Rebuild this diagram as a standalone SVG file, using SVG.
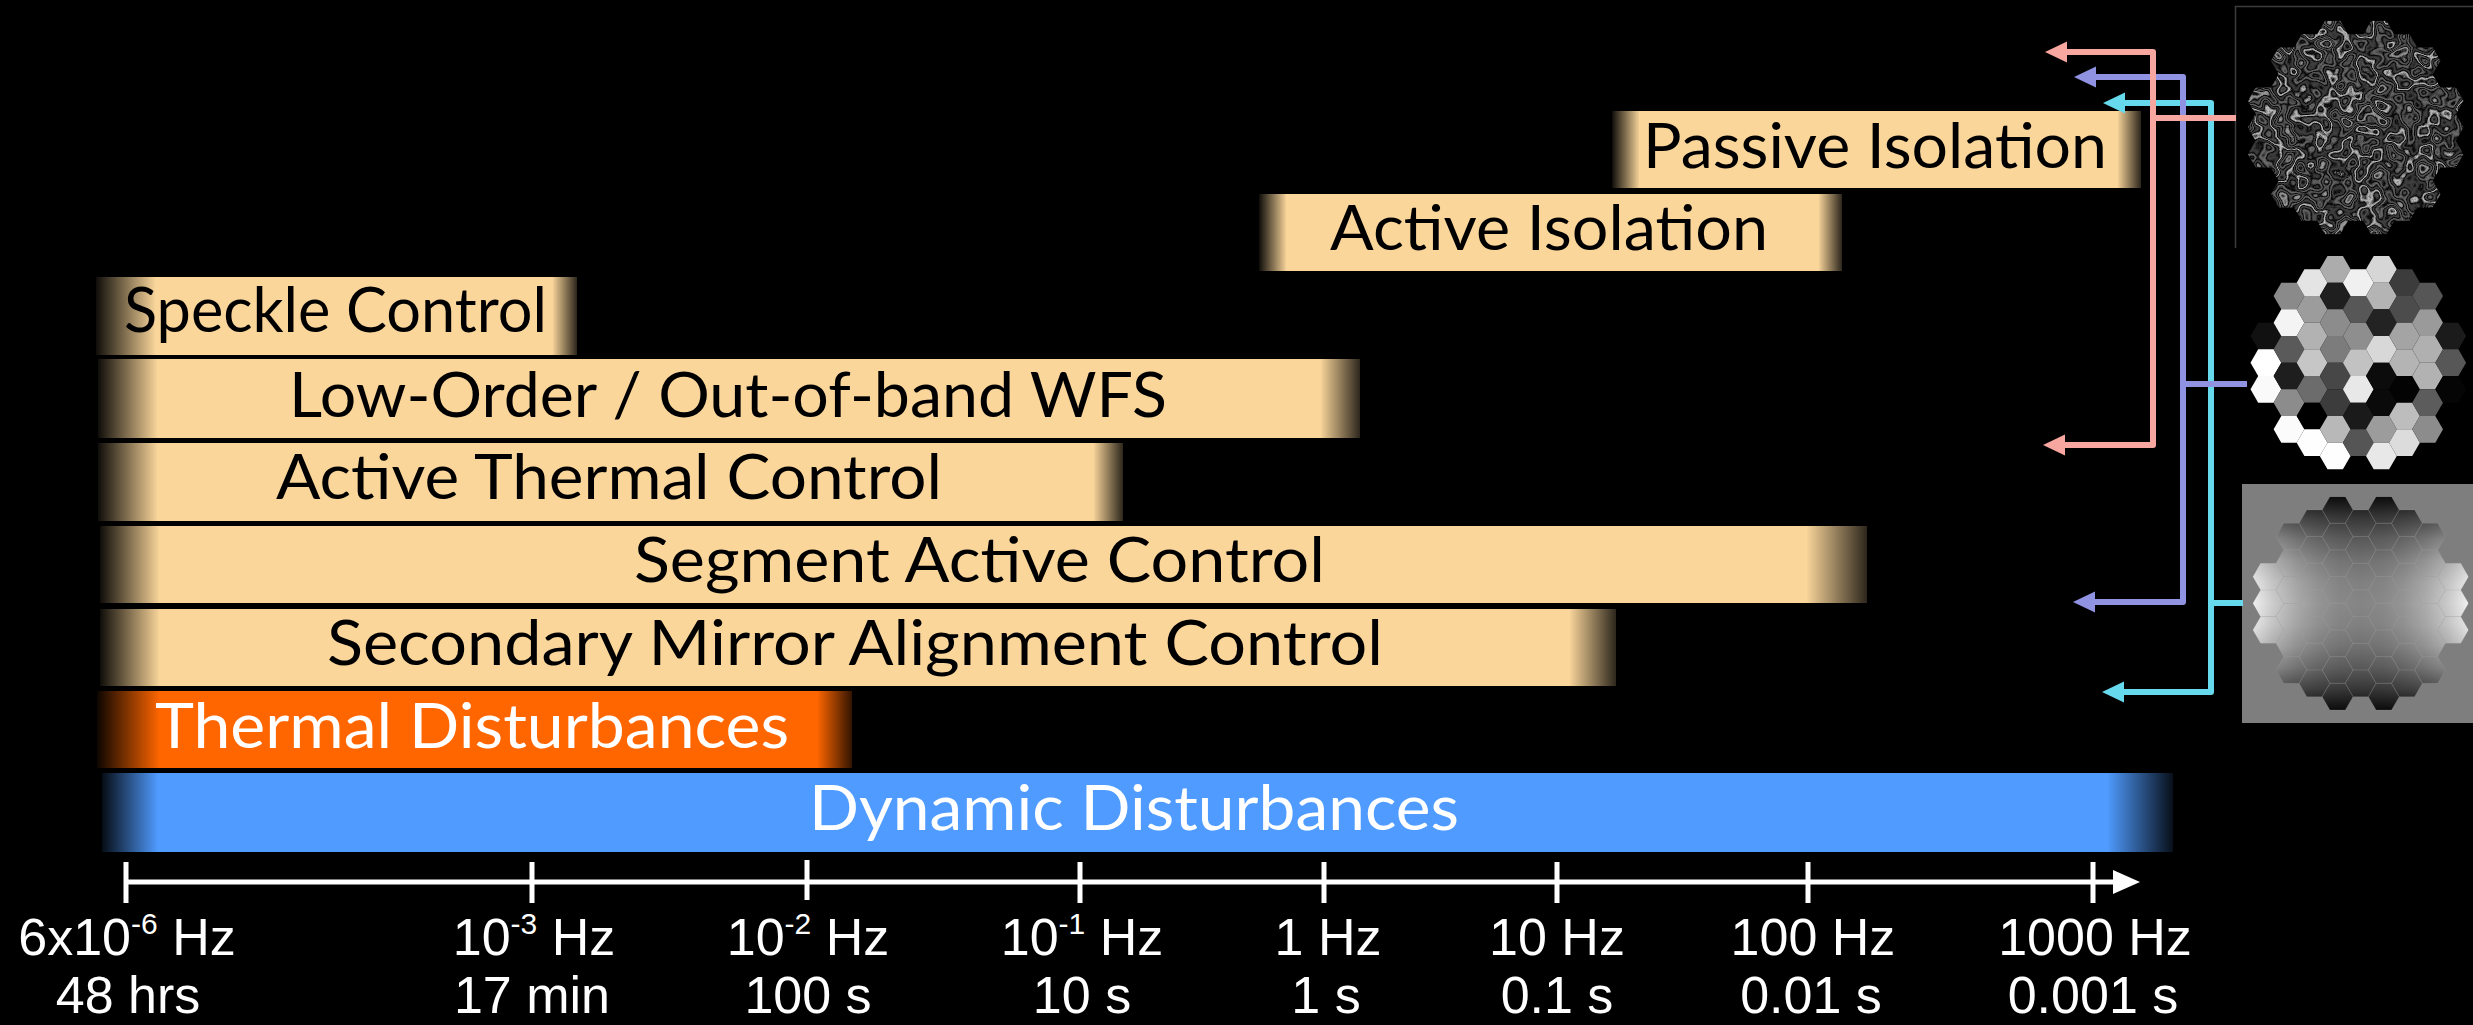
<svg xmlns="http://www.w3.org/2000/svg" xmlns:xlink="http://www.w3.org/1999/xlink" width="2473" height="1025" viewBox="0 0 2473 1025">
  <style>
    .lbl { font-family: Lato, "Liberation Sans", sans-serif; font-size: 62px; }
    .ink { fill: #000; }
    .wht { fill: #fff; }
    .ax { font-family: "Liberation Sans", Arial, sans-serif; font-size: 52px; fill: #fff; text-anchor: middle; }
    .sup { font-size: 30px; }
    .peach { fill: #FAD69B; }
    .orange { fill: #FF6600; }
    .blue { fill: #4F9BFF; }
    .axis { stroke: #fff; stroke-width: 5; fill: none; }
    .link { fill: none; stroke-width: 6; stroke-linejoin: round; }
  </style>
  <defs>
    <!-- edge fades of the frequency bands -->
    <linearGradient id="pL"><stop offset="0" stop-color="#FAD69B" stop-opacity="0.06"/><stop offset="1" stop-color="#FAD69B"/></linearGradient>
    <linearGradient id="pR"><stop offset="0" stop-color="#FAD69B"/><stop offset="1" stop-color="#FAD69B" stop-opacity="0.18"/></linearGradient>
    <linearGradient id="oL"><stop offset="0" stop-color="#FF6600" stop-opacity="0.05"/><stop offset="1" stop-color="#FF6600"/></linearGradient>
    <linearGradient id="oR"><stop offset="0" stop-color="#FF6600"/><stop offset="1" stop-color="#FF6600" stop-opacity="0.2"/></linearGradient>
    <linearGradient id="bL"><stop offset="0" stop-color="#4F9BFF" stop-opacity="0.08"/><stop offset="1" stop-color="#4F9BFF"/></linearGradient>
    <linearGradient id="bR"><stop offset="0" stop-color="#4F9BFF"/><stop offset="1" stop-color="#4F9BFF" stop-opacity="0.1"/></linearGradient>

    <!-- saddle-shaped wavefront map -->
    <linearGradient id="sadH" x1="0" y1="0" x2="1" y2="0">
      <stop offset="0" stop-color="#fff" stop-opacity="0.88"/>
      <stop offset="0.1" stop-color="#fff" stop-opacity="0.56"/>
      <stop offset="0.2" stop-color="#fff" stop-opacity="0.32"/>
      <stop offset="0.3" stop-color="#fff" stop-opacity="0.14"/>
      <stop offset="0.4" stop-color="#fff" stop-opacity="0.03"/>
      <stop offset="0.5" stop-color="#fff" stop-opacity="0"/>
      <stop offset="0.6" stop-color="#fff" stop-opacity="0.03"/>
      <stop offset="0.7" stop-color="#fff" stop-opacity="0.14"/>
      <stop offset="0.8" stop-color="#fff" stop-opacity="0.32"/>
      <stop offset="0.9" stop-color="#fff" stop-opacity="0.56"/>
      <stop offset="1" stop-color="#fff" stop-opacity="0.88"/>
    </linearGradient>
    <linearGradient id="sadV" x1="0" y1="0" x2="0" y2="1">
      <stop offset="0" stop-color="#000" stop-opacity="0.92"/>
      <stop offset="0.1" stop-color="#000" stop-opacity="0.59"/>
      <stop offset="0.2" stop-color="#000" stop-opacity="0.33"/>
      <stop offset="0.3" stop-color="#000" stop-opacity="0.15"/>
      <stop offset="0.4" stop-color="#000" stop-opacity="0.04"/>
      <stop offset="0.5" stop-color="#000" stop-opacity="0"/>
      <stop offset="0.6" stop-color="#000" stop-opacity="0.04"/>
      <stop offset="0.7" stop-color="#000" stop-opacity="0.15"/>
      <stop offset="0.8" stop-color="#000" stop-opacity="0.33"/>
      <stop offset="0.9" stop-color="#000" stop-opacity="0.59"/>
      <stop offset="1" stop-color="#000" stop-opacity="0.92"/>
    </linearGradient>

    <!-- speckle field: banded noise, dark contours between grey blobs -->
    <filter id="speckle" x="0" y="0" width="1" height="1" color-interpolation-filters="sRGB">
      <feTurbulence type="fractalNoise" baseFrequency="0.05" numOctaves="2" seed="7"/>
      <feColorMatrix type="matrix" values="1 0 0 0 0  1 0 0 0 0  1 0 0 0 0  0 0 0 0 1"/>
      <feComponentTransfer>
        <feFuncR type="table" tableValues=".02 .2 .3 .2 .02 .3 .45 .3 .02 .18 .28 .18 .02 .4 .62 .4 .02 .24 .36 .24 .02 .28 .42 .28 .02 .18 .26 .18 .02 .45 .75 .45 .02 .2 .32 .2 .02 .26 .4 .26 .02 .34 .52 .34 .02 .2 .28 .2 .02 .36 .55"/>
        <feFuncG type="table" tableValues=".02 .2 .3 .2 .02 .3 .45 .3 .02 .18 .28 .18 .02 .4 .62 .4 .02 .24 .36 .24 .02 .28 .42 .28 .02 .18 .26 .18 .02 .45 .75 .45 .02 .2 .32 .2 .02 .26 .4 .26 .02 .34 .52 .34 .02 .2 .28 .2 .02 .36 .55"/>
        <feFuncB type="table" tableValues=".02 .2 .3 .2 .02 .3 .45 .3 .02 .18 .28 .18 .02 .4 .62 .4 .02 .24 .36 .24 .02 .28 .42 .28 .02 .18 .26 .18 .02 .45 .75 .45 .02 .2 .32 .2 .02 .26 .4 .26 .02 .34 .52 .34 .02 .2 .28 .2 .02 .36 .55"/>
      </feComponentTransfer>
    </filter>

    <!-- one mirror segment (flat-top hexagon) -->
    <path id="hx" d="M-15.4,0 L-7.7,-13.34 L7.7,-13.34 L15.4,0 L7.7,13.34 L-7.7,13.34 Z"/>

    <!-- segmented pupil outline -->
    <clipPath id="aperture">
      <use href="#hx" x="-92.4" y="-26.67"/><use href="#hx" x="-92.4" y="0"/><use href="#hx" x="-92.4" y="26.67"/>
      <use href="#hx" x="-69.3" y="-66.67"/><use href="#hx" x="-69.3" y="-40"/><use href="#hx" x="-69.3" y="-13.33"/><use href="#hx" x="-69.3" y="13.33"/><use href="#hx" x="-69.3" y="40"/><use href="#hx" x="-69.3" y="66.67"/>
      <use href="#hx" x="-46.2" y="-80"/><use href="#hx" x="-46.2" y="-53.33"/><use href="#hx" x="-46.2" y="-26.67"/><use href="#hx" x="-46.2" y="0"/><use href="#hx" x="-46.2" y="26.67"/><use href="#hx" x="-46.2" y="53.33"/><use href="#hx" x="-46.2" y="80"/>
      <use href="#hx" x="-23.1" y="-93.33"/><use href="#hx" x="-23.1" y="-66.67"/><use href="#hx" x="-23.1" y="-40"/><use href="#hx" x="-23.1" y="-13.33"/><use href="#hx" x="-23.1" y="13.33"/><use href="#hx" x="-23.1" y="40"/><use href="#hx" x="-23.1" y="66.67"/><use href="#hx" x="-23.1" y="93.33"/>
      <use href="#hx" x="0" y="-80"/><use href="#hx" x="0" y="-53.33"/><use href="#hx" x="0" y="-26.67"/><use href="#hx" x="0" y="0"/><use href="#hx" x="0" y="26.67"/><use href="#hx" x="0" y="53.33"/><use href="#hx" x="0" y="80"/>
      <use href="#hx" x="23.1" y="-93.33"/><use href="#hx" x="23.1" y="-66.67"/><use href="#hx" x="23.1" y="-40"/><use href="#hx" x="23.1" y="-13.33"/><use href="#hx" x="23.1" y="13.33"/><use href="#hx" x="23.1" y="40"/><use href="#hx" x="23.1" y="66.67"/><use href="#hx" x="23.1" y="93.33"/>
      <use href="#hx" x="46.2" y="-80"/><use href="#hx" x="46.2" y="-53.33"/><use href="#hx" x="46.2" y="-26.67"/><use href="#hx" x="46.2" y="0"/><use href="#hx" x="46.2" y="26.67"/><use href="#hx" x="46.2" y="53.33"/><use href="#hx" x="46.2" y="80"/>
      <use href="#hx" x="69.3" y="-66.67"/><use href="#hx" x="69.3" y="-40"/><use href="#hx" x="69.3" y="-13.33"/><use href="#hx" x="69.3" y="13.33"/><use href="#hx" x="69.3" y="40"/><use href="#hx" x="69.3" y="66.67"/>
      <use href="#hx" x="92.4" y="-26.67"/><use href="#hx" x="92.4" y="0"/><use href="#hx" x="92.4" y="26.67"/>
    </clipPath>

    <!-- segment edges, styled by the referencing element -->
    <g id="grid">
      <use href="#hx" x="-92.4" y="-26.67"/><use href="#hx" x="-92.4" y="0"/><use href="#hx" x="-92.4" y="26.67"/>
      <use href="#hx" x="-69.3" y="-66.67"/><use href="#hx" x="-69.3" y="-40"/><use href="#hx" x="-69.3" y="-13.33"/><use href="#hx" x="-69.3" y="13.33"/><use href="#hx" x="-69.3" y="40"/><use href="#hx" x="-69.3" y="66.67"/>
      <use href="#hx" x="-46.2" y="-80"/><use href="#hx" x="-46.2" y="-53.33"/><use href="#hx" x="-46.2" y="-26.67"/><use href="#hx" x="-46.2" y="0"/><use href="#hx" x="-46.2" y="26.67"/><use href="#hx" x="-46.2" y="53.33"/><use href="#hx" x="-46.2" y="80"/>
      <use href="#hx" x="-23.1" y="-93.33"/><use href="#hx" x="-23.1" y="-66.67"/><use href="#hx" x="-23.1" y="-40"/><use href="#hx" x="-23.1" y="-13.33"/><use href="#hx" x="-23.1" y="13.33"/><use href="#hx" x="-23.1" y="40"/><use href="#hx" x="-23.1" y="66.67"/><use href="#hx" x="-23.1" y="93.33"/>
      <use href="#hx" x="0" y="-80"/><use href="#hx" x="0" y="-53.33"/><use href="#hx" x="0" y="-26.67"/><use href="#hx" x="0" y="0"/><use href="#hx" x="0" y="26.67"/><use href="#hx" x="0" y="53.33"/><use href="#hx" x="0" y="80"/>
      <use href="#hx" x="23.1" y="-93.33"/><use href="#hx" x="23.1" y="-66.67"/><use href="#hx" x="23.1" y="-40"/><use href="#hx" x="23.1" y="-13.33"/><use href="#hx" x="23.1" y="13.33"/><use href="#hx" x="23.1" y="40"/><use href="#hx" x="23.1" y="66.67"/><use href="#hx" x="23.1" y="93.33"/>
      <use href="#hx" x="46.2" y="-80"/><use href="#hx" x="46.2" y="-53.33"/><use href="#hx" x="46.2" y="-26.67"/><use href="#hx" x="46.2" y="0"/><use href="#hx" x="46.2" y="26.67"/><use href="#hx" x="46.2" y="53.33"/><use href="#hx" x="46.2" y="80"/>
      <use href="#hx" x="69.3" y="-66.67"/><use href="#hx" x="69.3" y="-40"/><use href="#hx" x="69.3" y="-13.33"/><use href="#hx" x="69.3" y="13.33"/><use href="#hx" x="69.3" y="40"/><use href="#hx" x="69.3" y="66.67"/>
      <use href="#hx" x="92.4" y="-26.67"/><use href="#hx" x="92.4" y="0"/><use href="#hx" x="92.4" y="26.67"/>
    </g>

    <!-- arrowheads -->
    <marker id="ahPink" markerUnits="userSpaceOnUse" viewBox="0 0 24 22" markerWidth="24" markerHeight="22" refX="14" refY="10.5" orient="auto-start-reverse">
      <path d="M0,0 L22,10.5 L0,21 Z" fill="#F8A7A0"/>
    </marker>
    <marker id="ahPurple" markerUnits="userSpaceOnUse" viewBox="0 0 24 22" markerWidth="24" markerHeight="22" refX="14" refY="10.5" orient="auto-start-reverse">
      <path d="M0,0 L22,10.5 L0,21 Z" fill="#8F93E2"/>
    </marker>
    <marker id="ahCyan" markerUnits="userSpaceOnUse" viewBox="0 0 24 22" markerWidth="24" markerHeight="22" refX="14" refY="10.5" orient="auto-start-reverse">
      <path d="M0,0 L22,10.5 L0,21 Z" fill="#66DAEC"/>
    </marker>
  </defs>

  <rect width="2473" height="1025" fill="#000"/>

  <!-- frequency bands -->
  <g id="passive-isolation">
    <rect x="1612" y="111" width="28" height="77" fill="url(#pL)"/>
    <rect class="peach" x="1639" y="111" width="479" height="77"/>
    <rect x="2117" y="111" width="24" height="77" fill="url(#pR)"/>
    <text class="lbl ink" x="1643" y="168" textLength="464" lengthAdjust="spacingAndGlyphs">Passive Isolation</text>
  </g>
  <g id="active-isolation">
    <rect x="1259" y="194" width="28" height="77" fill="url(#pL)"/>
    <rect class="peach" x="1286" y="194" width="533" height="77"/>
    <rect x="1818" y="194" width="24" height="77" fill="url(#pR)"/>
    <text class="lbl ink" x="1330" y="250" textLength="438" lengthAdjust="spacingAndGlyphs">Active Isolation</text>
  </g>
  <g id="speckle-control">
    <rect x="96" y="277" width="60" height="78" fill="url(#pL)"/>
    <rect class="peach" x="155" y="277" width="398" height="78"/>
    <rect x="552" y="277" width="25" height="78" fill="url(#pR)"/>
    <text class="lbl ink" x="124" y="332" textLength="423" lengthAdjust="spacingAndGlyphs">Speckle Control</text>
  </g>
  <g id="low-order-wfs">
    <rect x="98" y="359" width="60" height="79" fill="url(#pL)"/>
    <rect class="peach" x="157" y="359" width="1164" height="79"/>
    <rect x="1320" y="359" width="40" height="79" fill="url(#pR)"/>
    <text class="lbl ink" x="289" y="417" textLength="878" lengthAdjust="spacingAndGlyphs">Low-Order / Out-of-band WFS</text>
  </g>
  <g id="active-thermal-control">
    <rect x="98" y="443" width="60" height="78" fill="url(#pL)"/>
    <rect class="peach" x="157" y="443" width="937" height="78"/>
    <rect x="1093" y="443" width="30" height="78" fill="url(#pR)"/>
    <text class="lbl ink" x="276" y="499" textLength="666" lengthAdjust="spacingAndGlyphs">Active Thermal Control</text>
  </g>
  <g id="segment-active-control">
    <rect x="100" y="526" width="60" height="77" fill="url(#pL)"/>
    <rect class="peach" x="159" y="526" width="1648" height="77"/>
    <rect x="1806" y="526" width="61" height="77" fill="url(#pR)"/>
    <text class="lbl ink" x="634" y="582" textLength="691" lengthAdjust="spacingAndGlyphs">Segment Active Control</text>
  </g>
  <g id="secondary-mirror-alignment">
    <rect x="100" y="609" width="60" height="77" fill="url(#pL)"/>
    <rect class="peach" x="159" y="609" width="1411" height="77"/>
    <rect x="1569" y="609" width="47" height="77" fill="url(#pR)"/>
    <text class="lbl ink" x="327" y="665" textLength="1056" lengthAdjust="spacingAndGlyphs">Secondary Mirror Alignment Control</text>
  </g>
  <g id="thermal-disturbances">
    <rect x="97" y="691" width="63" height="77" fill="url(#oL)"/>
    <rect class="orange" x="159" y="691" width="659" height="77"/>
    <rect x="817" y="691" width="35" height="77" fill="url(#oR)"/>
    <text class="lbl wht" x="155" y="748" textLength="634" lengthAdjust="spacingAndGlyphs">Thermal Disturbances</text>
  </g>
  <g id="dynamic-disturbances">
    <rect x="102" y="773" width="56" height="79" fill="url(#bL)"/>
    <rect class="blue" x="157" y="773" width="1951" height="79"/>
    <rect x="2107" y="773" width="66" height="79" fill="url(#bR)"/>
    <text class="lbl wht" x="809" y="830" textLength="650" lengthAdjust="spacingAndGlyphs">Dynamic Disturbances</text>
  </g>

  <!-- frequency axis -->
  <g id="frequency-axis">
    <path class="axis" d="M126,882 H2116"/>
    <path d="M2113,870 L2140,882 L2113,894 Z" fill="#fff"/>
    <path class="axis" d="M126,862 V903 M532,862 V903 M807,860 V900 M1080,862 V903 M1324,862 V903 M1557,862 V903 M1808,862 V903 M2093,862 V903"/>
    <text class="ax" x="127" y="955">6x10<tspan class="sup" dy="-21">-6</tspan><tspan dy="21"> Hz</tspan></text>
    <text class="ax" x="128" y="1013">48 hrs</text>
    <text class="ax" x="534" y="955">10<tspan class="sup" dy="-21">-3</tspan><tspan dy="21"> Hz</tspan></text>
    <text class="ax" x="532" y="1013">17 min</text>
    <text class="ax" x="808" y="955">10<tspan class="sup" dy="-21">-2</tspan><tspan dy="21"> Hz</tspan></text>
    <text class="ax" x="808" y="1013">100 s</text>
    <text class="ax" x="1082" y="955">10<tspan class="sup" dy="-21">-1</tspan><tspan dy="21"> Hz</tspan></text>
    <text class="ax" x="1082" y="1013">10 s</text>
    <text class="ax" x="1328" y="955">1 Hz</text>
    <text class="ax" x="1326" y="1013">1 s</text>
    <text class="ax" x="1557" y="955">10 Hz</text>
    <text class="ax" x="1557" y="1013">0.1 s</text>
    <text class="ax" x="1813" y="955">100 Hz</text>
    <text class="ax" x="1811" y="1013">0.01 s</text>
    <text class="ax" x="2095" y="955">1000 Hz</text>
    <text class="ax" x="2093" y="1013">0.001 s</text>
  </g>

  <!-- pupil maps -->
  <g id="speckle-map">
    <path d="M2235.5,248 V6.5 H2473" fill="none" stroke="#3c3c3c" stroke-width="1.5"/>
    <g transform="translate(2355.7,127.5)" clip-path="url(#aperture)">
      <rect x="-115" y="-115" width="230" height="230" filter="url(#speckle)"/>
    </g>
  </g>
  <g id="segment-piston-map" transform="translate(2358.3,362.7)">
    <use href="#hx" x="-92.4" y="-26.67" fill="#111"/><use href="#hx" x="-92.4" y="0" fill="#fff"/><use href="#hx" x="-92.4" y="26.67" fill="#fafafa"/>
    <use href="#hx" x="-69.3" y="-66.67" fill="#8a8a8a"/><use href="#hx" x="-69.3" y="-40" fill="#f4f4f4"/><use href="#hx" x="-69.3" y="-13.33" fill="#5a5a5a"/><use href="#hx" x="-69.3" y="13.33" fill="#1e1e1e"/><use href="#hx" x="-69.3" y="40" fill="#8c8c8c"/><use href="#hx" x="-69.3" y="66.67" fill="#fbfbfb"/>
    <use href="#hx" x="-46.2" y="-80" fill="#e4e4e4"/><use href="#hx" x="-46.2" y="-53.33" fill="#9c9c9c"/><use href="#hx" x="-46.2" y="-26.67" fill="#b2b2b2"/><use href="#hx" x="-46.2" y="0" fill="#c6c6c6"/><use href="#hx" x="-46.2" y="26.67" fill="#6c6c6c"/><use href="#hx" x="-46.2" y="53.33" fill="#000"/><use href="#hx" x="-46.2" y="80" fill="#fefefe"/>
    <use href="#hx" x="-23.1" y="-93.33" fill="#acacac"/><use href="#hx" x="-23.1" y="-66.67" fill="#1f1f1f"/><use href="#hx" x="-23.1" y="-40" fill="#8c8c8c"/><use href="#hx" x="-23.1" y="-13.33" fill="#7c7c7c"/><use href="#hx" x="-23.1" y="13.33" fill="#474747"/><use href="#hx" x="-23.1" y="40" fill="#3c3c3c"/><use href="#hx" x="-23.1" y="66.67" fill="#b8b8b8"/><use href="#hx" x="-23.1" y="93.33" fill="#fefefe"/>
    <use href="#hx" x="0" y="-80" fill="#f0f0f0"/><use href="#hx" x="0" y="-53.33" fill="#575757"/><use href="#hx" x="0" y="-26.67" fill="#8e8e8e"/><use href="#hx" x="0" y="0" fill="#c2c2c2"/><use href="#hx" x="0" y="26.67" fill="#e8e8e8"/><use href="#hx" x="0" y="53.33" fill="#1a1a1a"/><use href="#hx" x="0" y="80" fill="#555"/>
    <use href="#hx" x="23.1" y="-93.33" fill="#d6d6d6"/><use href="#hx" x="23.1" y="-66.67" fill="#b4b4b4"/><use href="#hx" x="23.1" y="-40" fill="#232323"/><use href="#hx" x="23.1" y="-13.33" fill="#d8d8d8"/><use href="#hx" x="23.1" y="13.33" fill="#0c0c0c"/><use href="#hx" x="23.1" y="40" fill="#0a0a0a"/><use href="#hx" x="23.1" y="66.67" fill="#9c9c9c"/><use href="#hx" x="23.1" y="93.33" fill="#e8e8e8"/>
    <use href="#hx" x="46.2" y="-80" fill="#3c3c3c"/><use href="#hx" x="46.2" y="-53.33" fill="#4c4c4c"/><use href="#hx" x="46.2" y="-26.67" fill="#a4a4a4"/><use href="#hx" x="46.2" y="0" fill="#b4b4b4"/><use href="#hx" x="46.2" y="26.67" fill="#030303"/><use href="#hx" x="46.2" y="53.33" fill="#bdbdbd"/><use href="#hx" x="46.2" y="80" fill="#dcdcdc"/>
    <use href="#hx" x="69.3" y="-66.67" fill="#565656"/><use href="#hx" x="69.3" y="-40" fill="#9a9a9a"/><use href="#hx" x="69.3" y="-13.33" fill="#b0b0b0"/><use href="#hx" x="69.3" y="13.33" fill="#b2b2b2"/><use href="#hx" x="69.3" y="40" fill="#5c5c5c"/><use href="#hx" x="69.3" y="66.67" fill="#8c8c8c"/>
    <use href="#hx" x="92.4" y="-26.67" fill="#1b1b1b"/><use href="#hx" x="92.4" y="0" fill="#575757"/><use href="#hx" x="92.4" y="26.67" fill="#050505"/>
  </g>
  <g id="wavefront-map">
    <rect x="2242" y="484" width="235" height="239" fill="#7e7e7e"/>
    <g transform="translate(2360.7,603.3)">
      <g clip-path="url(#aperture)">
        <rect x="-108" y="-107" width="216" height="214" fill="#858585"/>
        <rect x="-108" y="-107" width="216" height="214" fill="url(#sadH)"/>
        <rect x="-108" y="-107" width="216" height="214" fill="url(#sadV)"/>
      </g>
      <use href="#grid" fill="none" stroke="#b0b0b0" stroke-opacity="0.14" stroke-width="1"/>
    </g>
  </g>

  <!-- connectors from the maps to the control bands -->
  <g id="connectors">
    <path class="link" stroke="#66DAEC" d="M2111,103 H2211 V692 H2110" marker-start="url(#ahCyan)" marker-end="url(#ahCyan)"/>
    <path class="link" stroke="#66DAEC" d="M2211,603 H2243"/>
    <path class="link" stroke="#8F93E2" d="M2082,77 H2183 V602 H2081" marker-start="url(#ahPurple)" marker-end="url(#ahPurple)"/>
    <path class="link" stroke="#8F93E2" d="M2183,384 H2247"/>
    <path class="link" stroke="#F8A7A0" d="M2053,52 H2153 V445 H2051" marker-start="url(#ahPink)" marker-end="url(#ahPink)"/>
    <path class="link" stroke="#F8A7A0" d="M2153,118 H2236"/>
  </g>
</svg>
